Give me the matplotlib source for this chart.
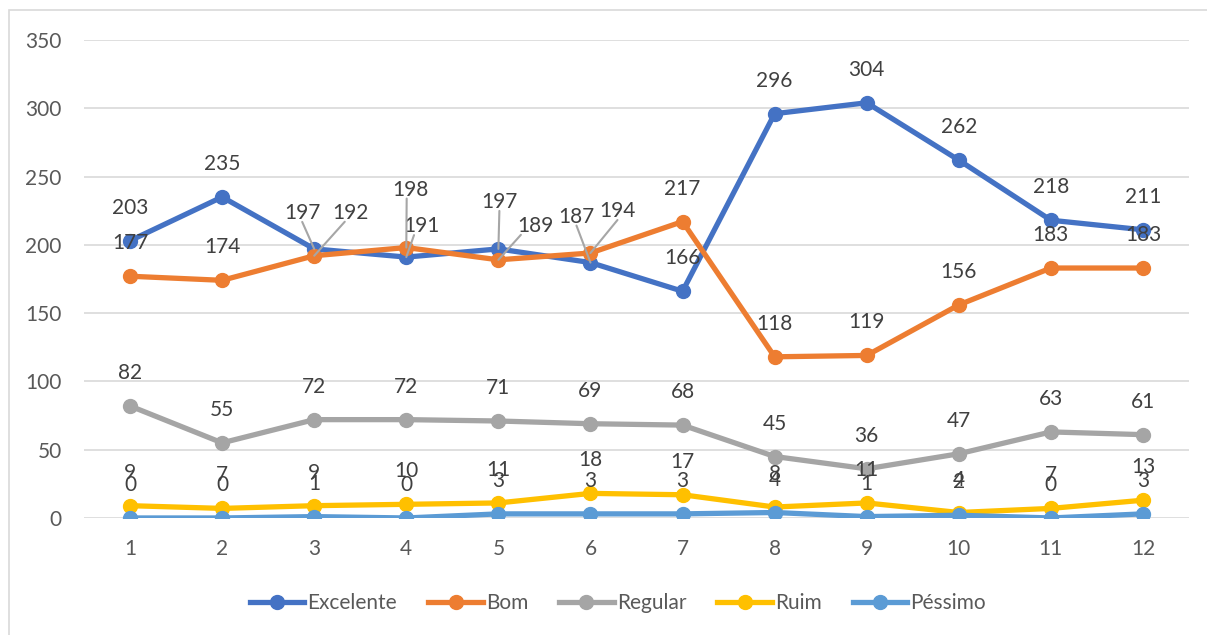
"""Line chart: monthly ratings (Excelente .. Péssimo) with Excel-style data labels."""

import matplotlib
matplotlib.use("Agg")
import matplotlib.pyplot as plt
from matplotlib.lines import Line2D
from matplotlib.patches import Rectangle

months = list(range(1, 13))
excelente = [203, 235, 197, 191, 197, 187, 166, 296, 304, 262, 218, 211]
bom = [177, 174, 192, 198, 189, 194, 217, 118, 119, 156, 183, 183]
regular = [82, 55, 72, 72, 71, 69, 68, 45, 36, 47, 63, 61]
ruim = [9, 7, 9, 10, 11, 18, 17, 8, 11, 4, 7, 13]
pessimo = [0, 0, 1, 0, 3, 3, 3, 4, 1, 2, 0, 3]

series = [
    ("Excelente", excelente, "#4472C4"),
    ("Bom", bom, "#ED7D31"),
    ("Regular", regular, "#A5A5A5"),
    ("Ruim", ruim, "#FFC000"),
    ("Péssimo", pessimo, "#5B9BD5"),
]

# labels that Excel moved off the point and tied back with a leader line:
# (series, month) -> (dx, dy in pixels, where the leader leaves the label)
moved = {
    ("Excelente", 3): (-12, 36, 0.5),
    ("Bom", 3): (36, 43, 0.35),
    ("Bom", 4): (4, 58, 0.4),
    ("Excelente", 4): (15, 31, 0.3),
    ("Excelente", 5): (1, 47, 0.5),
    ("Bom", 5): (37, 34, 0.1),
    ("Excelente", 6): (-14, 46, 0.5),
    ("Bom", 6): (27, 42, 0.5),
}

plt.rcParams["font.family"] = ["Lato", "DejaVu Sans"]

fig = plt.figure(figsize=(12.07, 6.35), dpi=100)
fig.patches.append(Rectangle((9 / 1207, -0.1), 1.2, 1 - 10 / 635 + 0.1,
                             transform=fig.transFigure, fill=False,
                             ec="#d9d9d9", lw=1.2))
ax = fig.add_axes([0.0696, 0.1843, 0.9155, 0.7528])

for name, vals, color in series:
    ax.plot(months, vals, color=color, lw=3.8, marker="o", ms=10,
            solid_capstyle="round", label=name, zorder=3)

for name, vals, color in series:
    for m, v in zip(months, vals):
        if (name, m) in moved:
            dx, dy, rx = moved[(name, m)]
            ax.annotate(str(v), (m, v), xytext=(dx, dy), textcoords="offset pixels",
                        ha="center", va="center", fontsize=15, color="#404040",
                        arrowprops=dict(arrowstyle="-", color="#a6a6a6", lw=1.5,
                                        relpos=(rx, 0.05), patchA=None,
                                        shrinkA=0, shrinkB=0),
                        zorder=5)
        else:
            ax.annotate(str(v), (m, v), xytext=(0, 33), textcoords="offset pixels",
                        ha="center", va="center", fontsize=15, color="#404040", zorder=4)

ax.set_xlim(0.5, 12.5)
ax.set_ylim(0, 350)
ax.set_xticks(months)
ax.set_yticks(range(0, 351, 50))
ax.grid(axis="y", color="#d9d9d9", lw=1.2)
ax.set_axisbelow(True)
for s in ["top", "right", "left", "bottom"]:
    ax.spines[s].set_visible(False)
ax.tick_params(length=0, labelsize=15, labelcolor="#595959")
ax.tick_params(axis="x", pad=15)
ax.tick_params(axis="y", pad=16)

handles = [Line2D([0], [0], color=c, lw=3.8, marker="o", ms=10, label=n)
           for n, _, c in series]
fig.legend(handles=handles, loc="center", bbox_to_anchor=(618 / 1207, 1 - 603 / 635),
           ncol=5, frameon=False, fontsize=15, labelcolor="#595959",
           handlelength=2.6, handletextpad=0.15, columnspacing=1.5)

fig.savefig("out.png", dpi=100)
